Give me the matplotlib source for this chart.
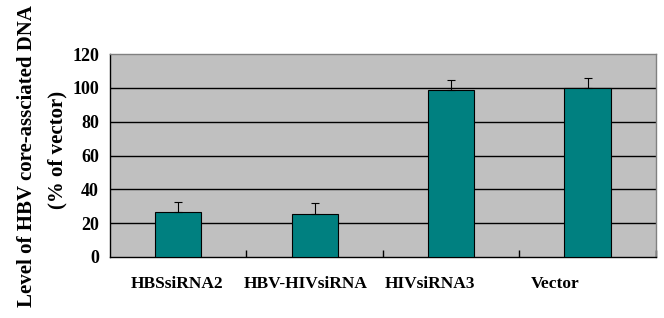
import matplotlib
matplotlib.use('Agg')
import matplotlib.pyplot as plt
import numpy as np

# values
groups = ['HBSsiRNA2', 'HBV-HIVsiRNA', 'HIVsiRNA3', 'Vector']
level = [26.5, 25.6, 98.6, 100.0]
err_up = [6.0, 6.3, 6.0, 5.6]
yticks = [0, 20, 40, 60, 80, 100, 120]

# category labels sit a bit left of their bars in the original
label_shift = [-0.01, -0.066, -0.154, -0.24]

plt.rcParams['font.family'] = ['Liberation Serif', 'DejaVu Serif']
plt.rcParams['font.weight'] = 'bold'

fig = plt.figure(figsize=(6.64, 3.18), dpi=100)
ax = fig.add_axes([0.1657, 0.192, 0.822, 0.638])
ax.set_facecolor('#c0c0c0')

x = np.arange(len(groups))
ax.bar(x, level, width=0.34, color='#008080', edgecolor='black', linewidth=0.8, zorder=3,
       yerr=[np.zeros(len(err_up)), err_up], capsize=3,
       error_kw=dict(ecolor='black', elinewidth=0.8, capthick=0.8))

ax.set_xlim(-0.5, len(groups) - 0.5)
ax.set_ylim(0, 120)
ax.set_yticks(yticks)
ax.set_yticklabels([str(v) for v in yticks], fontsize=13, fontweight='bold')
ax.tick_params(axis='y', length=0, pad=8)
for v in yticks[1:-1]:
    ax.axhline(v, color='black', linewidth=1.0, zorder=1)

# x labels drawn as text so they can be nudged like the original
ax.set_xticks([])
for xi, name, sh in zip(x, groups, label_shift):
    ax.text(xi + sh, -0.133, name, transform=ax.get_xaxis_transform(),
            ha='center', va='center', fontsize=12.5, fontweight='bold')
ax.set_xticks(np.arange(len(groups)) + 0.5, minor=True)
ax.tick_params(axis='x', which='minor', direction='in', length=5, width=1)

for s in ['top', 'right']:
    ax.spines[s].set_color('#808080')
    ax.spines[s].set_linewidth(1.0)
for s in ['left', 'bottom']:
    ax.spines[s].set_color('black')
    ax.spines[s].set_linewidth(1.0)

fig.text(27 / 664, 1 - 156 / 318, 'Level of HBV core-assciated DNA', rotation=90,
         ha='center', va='center', fontsize=15, fontweight='bold')
fig.text(57 / 664, 1 - 150 / 318, '(% of vector)', rotation=90,
         ha='center', va='center', fontsize=15, fontweight='bold')

fig.savefig('out.png', dpi=100)
